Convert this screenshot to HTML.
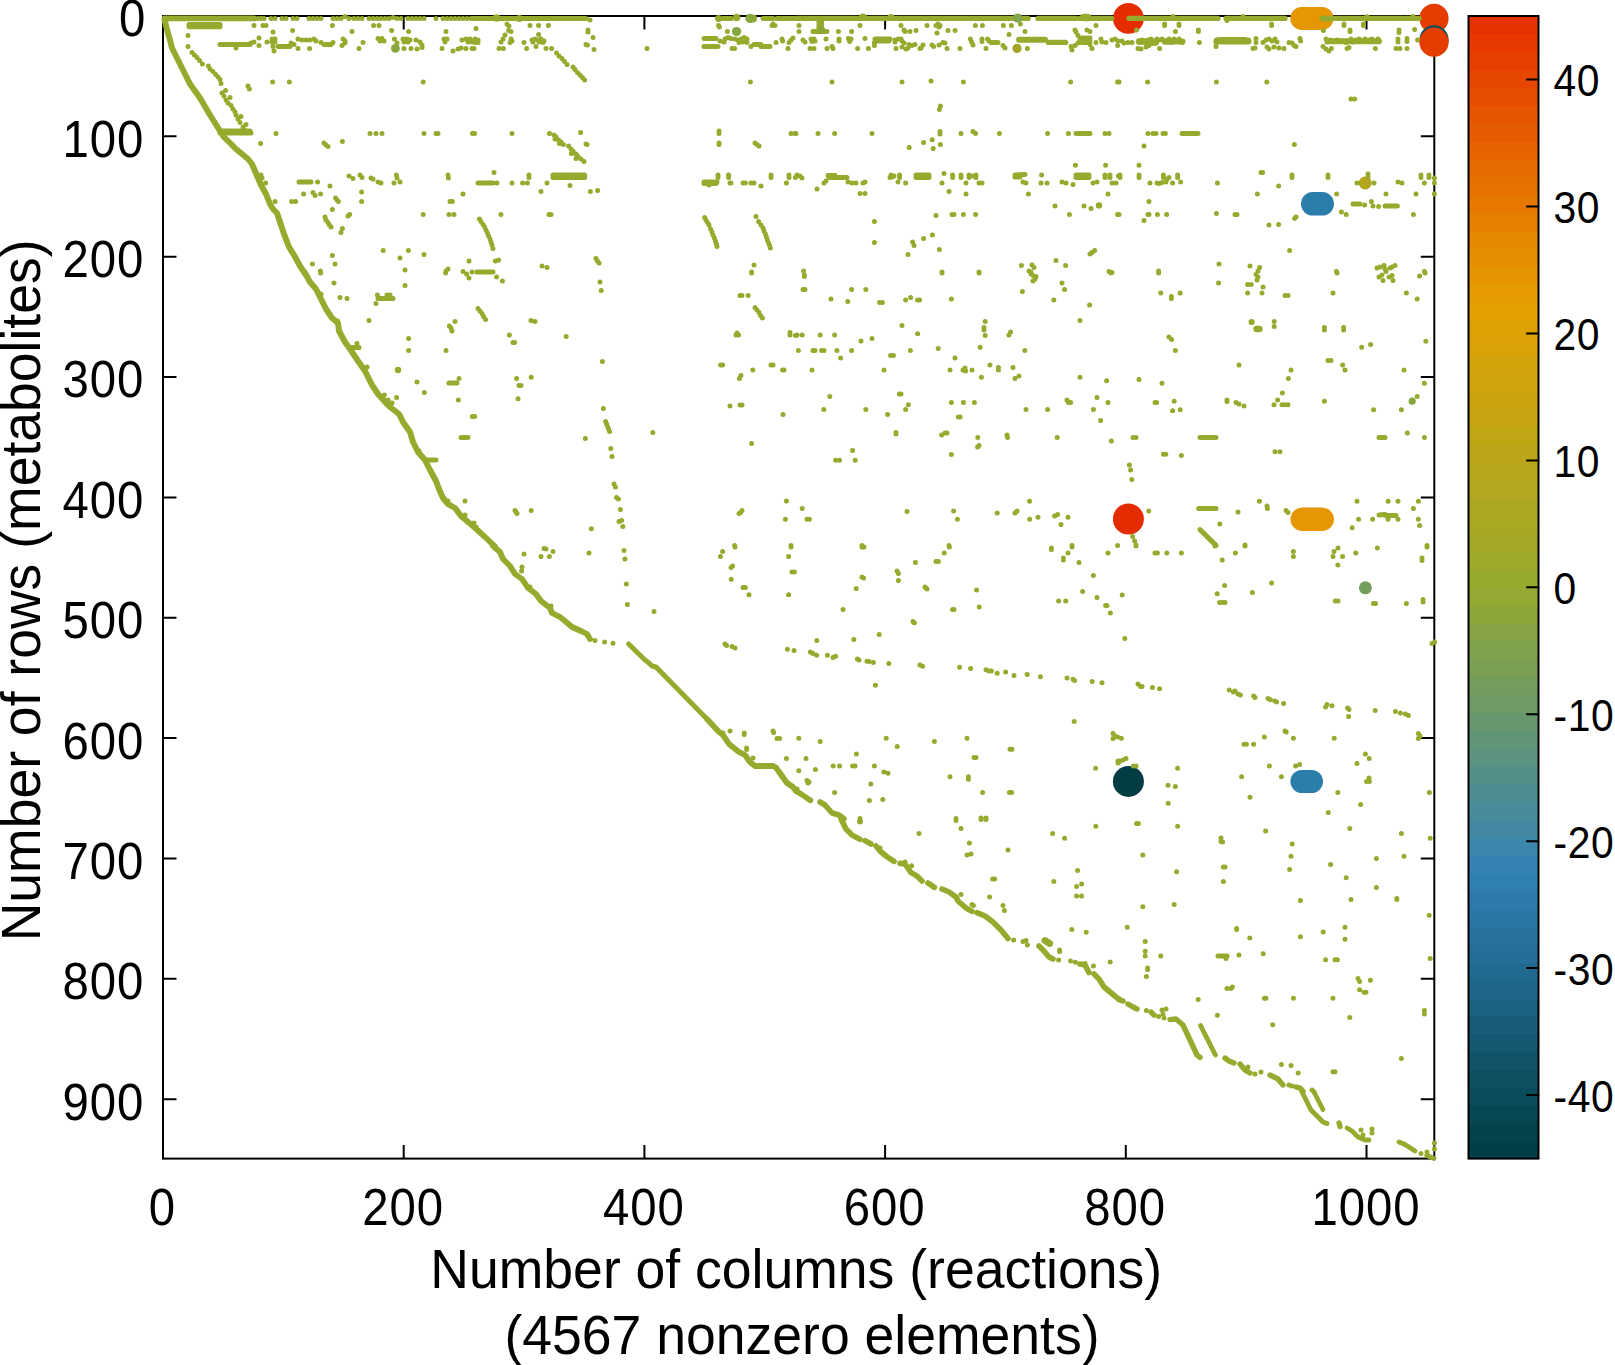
<!DOCTYPE html>
<html lang="en"><head><meta charset="utf-8"><title>Sparsity pattern</title>
<style>html,body{margin:0;padding:0;background:#fff}body{width:1615px;height:1365px;overflow:hidden}svg{display:block}text{font-family:"Liberation Sans",Arial,Helvetica,sans-serif;fill:#000}</style></head><body>
<svg width="1615" height="1365" viewBox="0 0 1615 1365">
<rect width="1615" height="1365" fill="#fff"/>
<g stroke="#000" stroke-width="2" fill="none" stroke-linecap="butt">
<rect x="163.0" y="16.0" width="1271.3" height="1142.6"/>
<path d="M163.0 1158.6v-13.5M163.0 16.0v13.5M403.7 1158.6v-13.5M403.7 16.0v13.5M644.4 1158.6v-13.5M644.4 16.0v13.5M885.1 1158.6v-13.5M885.1 16.0v13.5M1125.8 1158.6v-13.5M1125.8 16.0v13.5M1366.5 1158.6v-13.5M1366.5 16.0v13.5M163.0 16.0h13.5M1434.3 16.0h-13.5M163.0 136.3h13.5M1434.3 136.3h-13.5M163.0 256.7h13.5M1434.3 256.7h-13.5M163.0 377.1h13.5M1434.3 377.1h-13.5M163.0 497.4h13.5M1434.3 497.4h-13.5M163.0 617.8h13.5M1434.3 617.8h-13.5M163.0 738.1h13.5M1434.3 738.1h-13.5M163.0 858.5h13.5M1434.3 858.5h-13.5M163.0 978.8h13.5M1434.3 978.8h-13.5M163.0 1099.2h13.5M1434.3 1099.2h-13.5"/>
</g>
<g id="big">
<circle cx="1128.4" cy="18.4" r="15.4" fill="#e52b00"/>
<line x1="1301.8" y1="18.4" x2="1322.0" y2="18.4" stroke="#e69600" stroke-width="23.0" stroke-linecap="round"/>
<circle cx="1434.0" cy="18.4" r="14.6" fill="#e53c00"/>
<circle cx="1434.0" cy="39.9" r="14.6" fill="#0a4f5c"/>
<circle cx="1434.0" cy="42.2" r="14.6" fill="#e53c00"/>
<line x1="1312.8" y1="203.8" x2="1322.2" y2="203.8" stroke="#2b7dab" stroke-width="23.6" stroke-linecap="round"/>
<circle cx="1365.2" cy="183.0" r="6.5" fill="#b3a51c"/>
<circle cx="1128.4" cy="519.0" r="15.5" fill="#e52b00"/>
<line x1="1302.2" y1="519.2" x2="1322.2" y2="519.2" stroke="#e69600" stroke-width="23.4" stroke-linecap="round"/>
<circle cx="1128.4" cy="781.4" r="15.5" fill="#033d44"/>
<line x1="1301.9" y1="781.5" x2="1311.5" y2="781.5" stroke="#2b7dab" stroke-width="23.0" stroke-linecap="round"/>
<circle cx="1365.4" cy="587.8" r="6.5" fill="#749e5e"/>
</g>
<g id="dots" fill="none" stroke="#96aa2d" stroke-linecap="round" stroke-linejoin="round" stroke-width="5.0">
<path d="M164.6 19.2 166.0 26.0 170.0 40.0 172.0 48.0 180.0 64.0 190.0 84.0 200.0 98.0 210.0 115.0 220.0 131.0 224.0 137.0 236.0 149.0 248.0 159.0 252.0 164.0 258.0 178.0 261.0 185.0 266.0 194.0 270.0 204.0 273.0 209.0 277.0 213.0 280.0 222.0 284.0 234.0 289.0 247.0 294.0 255.0 300.0 266.0 305.0 273.6" stroke-width="6.0"/>
<path d="M164.6 18.4 254.0 18.4" stroke-width="5.8"/>
<path d="M220.0 133.0 251.0 133.0" stroke-width="5.0"/>
<path d="M220.0 131.0 250.0 131.0" stroke-width="5.0"/>
<path d="M189.0 24.6 220.0 24.6" stroke-width="5.0"/>
<path d="M189.0 26.8 220.0 26.8" stroke-width="5.0"/>
<path d="M220.0 44.4 250.0 44.4" stroke-width="5.0"/>
<path d="M305.0 273.0 310.0 282.0 316.0 289.0 321.0 299.0 326.0 309.0 332.0 318.0 338.0 323.0 339.0 331.0 345.0 342.0 350.0 349.0 358.0 361.0 365.0 371.0 368.0 377.0 372.0 385.0 378.0 394.0 386.0 403.0 390.0 407.0 399.0 414.0 403.0 422.0 410.0 432.0 413.0 442.0 418.0 452.0 425.0 460.0 430.0 470.0 436.0 481.0 439.0 489.0 443.0 498.0 448.0 504.0 455.0 508.0 461.0 516.0 468.0 522.0 473.0 526.0" stroke-width="6.0"/>
<path d="M398.0 370.0 398.0 370.0" stroke-width="6.4"/>
<path d="M473.0 18.4 586.0 18.4" stroke-width="5.0"/>
<path d="M723.0 18.4 731.0 18.4" stroke-width="5.0"/>
<path d="M763.0 18.4 773.0 18.4" stroke-width="5.0"/>
<path d="M777.0 18.4 796.0 18.4" stroke-width="5.0"/>
<path d="M496.6 18.0 496.6 18.0" stroke-width="7.5"/>
<path d="M519.4 18.4 519.4 18.4" stroke-width="7.0"/>
<path d="M718.6 18.4 718.6 18.4" stroke-width="7.0"/>
<path d="M736.6 17.6 736.6 17.6" stroke-width="7.5"/>
<path d="M553.0 175.0 584.6 175.0" stroke-width="5.0"/>
<path d="M553.0 177.6 584.6 177.6" stroke-width="5.0"/>
<path d="M473.0 526.0 485.0 537.0 495.0 546.6" stroke-width="5.8"/>
<path d="M493.0 546.0 500.0 552.0 503.0 559.0 510.0 566.0 515.0 574.0 522.0 579.0 528.0 588.0 536.0 594.0 541.0 601.0 550.0 608.0 552.0 613.0 560.0 617.0 565.0 621.0 572.0 627.0 581.0 631.0 587.0 634.0 590.0 639.0" stroke-width="5.8"/>
<path d="M628.6 644.0 645.0 660.0 649.0 663.0 652.0 666.0 656.0 667.0 707.0 719.0" stroke-width="5.0"/>
<path d="M707.0 719.0 718.0 731.0 723.0 735.0 729.0 744.0 739.0 752.0 745.0 755.0 750.0 762.0 755.0 766.0 773.0 766.0 776.0 767.6 782.0 776.0 787.0 783.0 793.0 787.0 796.0 791.0" stroke-width="5.8"/>
<path d="M796.0 18.4 1028.0 18.4" stroke-width="5.4"/>
<path d="M1038.0 18.4 1076.0 18.4" stroke-width="5.4"/>
<path d="M1080.0 18.4 1111.6 18.4" stroke-width="5.4"/>
<path d="M863.0 17.2 863.0 17.2" stroke-width="7.5"/>
<path d="M891.0 17.6 891.0 17.6" stroke-width="7.0"/>
<path d="M1084.0 17.6 1087.6 17.6" stroke-width="7.5"/>
<path d="M1019.0 39.8 1045.0 39.8" stroke-width="6.0"/>
<path d="M1081.6 41.0 1088.4 41.0" stroke-width="8.0"/>
<path d="M1048.4 42.4 1065.6 42.4" stroke-width="5.2"/>
<path d="M1099.0 205.4 1099.0 205.4" stroke-width="6.4"/>
<path d="M796.0 791.0 801.0 794.0 810.4 800.4" stroke-width="5.6"/>
<path d="M820.0 802.0 825.0 805.0 832.0 813.0 839.0 815.0 844.0 818.8" stroke-width="5.6"/>
<path d="M841.0 819.0 846.0 829.0 852.0 835.0 860.0 839.4" stroke-width="5.6"/>
<path d="M865.0 840.6 871.0 844.0" stroke-width="5.6"/>
<path d="M876.0 846.0 880.0 851.0 886.0 856.0 894.0 861.4" stroke-width="5.6"/>
<path d="M900.0 863.4 905.0 864.0 911.0 872.6 917.0 876.0 922.0 881.0" stroke-width="5.6"/>
<path d="M928.0 883.0 934.4 887.4" stroke-width="5.6"/>
<path d="M942.0 889.0 949.0 892.0 956.0 897.0 958.0 901.0 966.0 908.0 972.0 911.4" stroke-width="5.6"/>
<path d="M977.0 912.6 985.0 916.0 993.0 922.0 1001.0 930.0 1008.0 938.6" stroke-width="5.6"/>
<path d="M1045.0 940.6 1049.6 943.4" stroke-width="7.0"/>
<path d="M1039.0 946.0 1044.0 951.0 1049.0 957.0 1053.0 959.0" stroke-width="5.6"/>
<path d="M1080.0 964.0 1085.0 965.0 1089.0 972.6" stroke-width="5.6"/>
<path d="M1094.0 974.0 1099.0 979.0 1104.0 987.0 1110.0 992.0 1116.0 997.0 1119.0 999.0" stroke-width="5.6"/>
<path d="M860.0 821.4 860.0 821.4" stroke-width="6.0"/>
<path d="M1129.0 18.4 1218.0 18.4" stroke-width="5.2"/>
<path d="M1226.0 18.4 1285.0 18.4" stroke-width="5.2"/>
<path d="M1322.0 18.4 1403.0 18.4" stroke-width="5.2"/>
<path d="M1405.0 18.4 1419.0 18.4" stroke-width="5.2"/>
<path d="M1251.6 322.0 1251.6 322.0" stroke-width="6.2"/>
<path d="M1256.6 329.0 1259.4 329.0" stroke-width="6.5"/>
<path d="M1119.0 999.6 1123.0 1001.0" stroke-width="5.4"/>
<path d="M1128.0 1004.0 1133.0 1007.0 1137.0 1009.0" stroke-width="5.4"/>
<path d="M1151.0 1012.0 1154.0 1015.0" stroke-width="5.4"/>
<path d="M1170.0 1019.6 1176.0 1019.0 1183.0 1025.0 1197.0 1055.0 1200.0 1057.4" stroke-width="5.4"/>
<path d="M1200.6 1025.6 1215.4 1055.0" stroke-width="4.8"/>
<path d="M1225.0 1058.0 1229.0 1061.0 1234.0 1063.0" stroke-width="5.4"/>
<path d="M1240.0 1064.0 1245.0 1070.0 1250.0 1073.0" stroke-width="5.4"/>
<path d="M1270.0 1075.0 1278.0 1079.0 1283.0 1085.0" stroke-width="5.4"/>
<path d="M1296.0 1087.0 1300.0 1088.0 1303.0 1091.4" stroke-width="5.4"/>
<path d="M1302.0 1092.0 1311.0 1110.0 1323.0 1122.0 1327.0 1123.6" stroke-width="4.8"/>
<path d="M1314.0 1092.0 1323.0 1109.6" stroke-width="4.6"/>
<path d="M1339.0 1123.0 1340.0 1126.4" stroke-width="5.4"/>
<path d="M1347.0 1128.0 1352.0 1131.0 1358.0 1137.0 1365.0 1140.0 1369.0 1140.0" stroke-width="4.8"/>
<path d="M1399.0 1142.0 1405.0 1144.4 1415.0 1151.0" stroke-width="4.8"/>
<path d="M1427.0 1155.6 1434.0 1158.4" stroke-width="4.8"/>
<path d="M1139.0 41.4 1147.5 41.4" stroke-width="6.5"/>
<path d="M1150.5 42.7 1156.0 42.7" stroke-width="6.0"/>
<path d="M1165.0 41.4 1173.5 41.4" stroke-width="6.5"/>
<path d="M1177.5 41.4 1182.5 41.4" stroke-width="6.0"/>
<path d="M1217.0 41.0 1248.0 41.0" stroke-width="7.0"/>
<path d="M1329.0 41.2 1379.0 41.2" stroke-width="6.0"/>
<path d="M258.0 18.4h0M261.0 18.4h0M264.0 18.4h0M271.0 18.4h0M275.0 18.4h0M282.0 18.4h0M286.0 18.4h0M293.0 18.4h0M297.0 18.4h0M309.0 18.4h0M313.0 18.4h0M317.0 18.4h0M321.0 18.4h0M333.0 18.4h0M337.0 18.4h0M341.0 18.4h0M345.0 16.4h0M349.0 18.4h0M354.0 18.4h0M358.0 18.4h0M362.0 18.4h0M369.0 18.4h0M373.0 18.4h0M377.0 18.4h0M381.0 18.4h0M385.0 18.4h0M389.0 18.4h0M393.0 17.6h0M397.0 18.4h0M401.0 18.4h0M408.0 18.4h0M412.0 18.4h0M416.0 18.4h0M420.0 18.4h0M424.0 18.4h0M436.0 18.4h0M443.0 18.4h0M447.0 18.4h0M451.0 18.4h0M455.0 18.4h0M459.0 18.4h0M463.0 18.4h0M467.0 18.4h0M471.0 18.4h0M254.0 25.6h0M263.0 25.6h0M266.0 25.6h0M332.4 25.6h0M373.6 25.6h0M379.0 25.6h0M273.0 32.0h0M292.6 30.4h0M352.0 31.6h0M391.6 30.4h0M408.6 31.6h0M446.0 31.6h0M259.0 38.0h0M267.0 42.0h0M272.0 39.0h0M275.0 39.0h0M272.0 42.0h0M275.0 42.0h0M298.0 39.0h0M302.0 40.0h0M306.0 40.0h0M310.0 40.0h0M314.0 39.0h0M316.0 41.0h0M343.0 39.0h0M345.0 41.0h0M378.0 38.4h0M382.0 38.4h0M380.0 41.0h0M384.0 41.0h0M394.4 39.0h0M403.0 39.0h0M407.0 39.0h0M410.0 40.0h0M404.0 42.0h0M408.0 42.0h0M416.0 40.0h0M420.0 42.0h0M444.0 39.0h0M447.0 39.0h0M445.0 42.0h0M462.0 40.0h0M466.0 39.0h0M470.0 39.0h0M468.0 42.0h0M472.0 42.0h0M251.0 43.0h0M254.0 42.0h0M259.0 45.6h0M273.0 46.4h0M291.0 43.0h0M294.0 44.4h0M321.0 42.4h0M333.0 42.4h0M342.0 45.6h0M345.0 43.0h0M363.0 42.4h0M397.0 43.0h0M422.0 45.0h0M236.0 48.0h0M274.0 51.0h0M298.0 48.4h0M309.6 48.4h0M359.0 48.4h0M404.0 48.4h0M411.0 48.4h0M417.0 49.0h0M422.0 47.6h0M442.0 48.4h0M458.0 49.0h0M461.0 48.0h0M466.0 48.4h0M472.0 48.4h0M453.0 51.0h0M188.0 35.6h0M188.0 46.4h0M192.0 52.4h0M194.4 55.0h0M197.0 57.6h0M199.6 60.4h0M202.4 64.0h0M208.4 66.0h0M210.0 69.0h0M213.0 71.6h0M215.6 74.4h0M218.0 77.0h0M220.0 79.4h0M221.0 83.6h0M225.6 90.4h0M222.0 93.0h0M224.0 96.0h0M230.0 97.6h0M226.0 100.0h0M228.0 103.0h0M231.0 105.6h0M233.0 109.0h0M235.0 112.0h0M236.0 115.0h0M241.0 116.6h0M238.0 119.0h0M240.0 122.4h0M246.0 124.4h0M243.0 127.0h0M244.0 129.6h0M248.0 86.0h0M249.4 89.0h0M272.6 82.0h0M289.4 82.0h0M423.2 82.0h0M276.0 133.6h0M370.0 133.6h0M376.0 133.6h0M382.0 133.6h0M424.0 133.6h0M436.0 133.6h0M438.0 133.6h0M472.4 133.6h0M260.6 143.4h0M324.0 143.0h0M326.0 145.0h0M328.0 146.4h0M342.4 141.4h0M261.0 175.0h0M262.0 178.0h0M259.6 181.0h0M265.6 183.0h0M317.6 182.0h0M349.0 176.0h0M353.0 178.4h0M360.0 175.0h0M362.0 177.6h0M371.0 178.0h0M373.0 179.0h0M378.0 182.0h0M381.0 183.0h0M396.4 175.0h0M397.0 178.0h0M394.0 183.0h0M400.0 182.0h0M448.0 175.0h0M448.4 178.0h0M330.0 186.0h0M303.6 194.0h0M313.0 192.4h0M315.0 195.6h0M320.6 194.0h0M361.6 192.0h0M463.0 194.0h0M275.0 201.4h0M291.6 201.4h0M295.6 201.4h0M335.6 198.0h0M337.0 200.0h0M338.4 201.6h0M361.6 201.4h0M450.0 201.4h0M452.4 201.4h0M332.4 209.6h0M348.0 216.0h0M349.6 214.4h0M423.2 214.6h0M449.0 214.6h0M454.0 214.6h0M325.0 217.0h0M326.0 220.0h0M328.0 222.4h0M329.4 225.0h0M331.0 227.0h0M342.4 228.6h0M341.0 232.6h0M383.2 250.6h0M408.4 250.6h0M332.4 255.4h0M400.0 258.0h0M424.0 254.4h0M469.0 261.0h0M312.4 264.0h0M335.0 264.0h0M320.4 271.0h0M405.0 270.0h0M446.0 271.0h0M448.0 269.0h0M463.0 271.6h0M472.0 272.0h0M357.0 343.4h0M321.0 294.0h0M337.6 321.0h0M367.0 367.0h0M388.0 400.0h0M392.0 403.0h0M384.4 395.0h0M400.0 415.0h0M419.0 451.0h0M448.0 501.0h0M465.0 515.0h0M320.6 273.0h0M445.6 273.0h0M466.6 274.0h0M469.0 278.0h0M334.0 283.0h0M405.0 285.6h0M340.0 297.6h0M347.0 298.6h0M377.4 295.0h0M387.0 295.0h0M390.0 295.0h0M376.0 303.6h0M369.0 320.6h0M455.0 321.4h0M449.4 326.0h0M451.0 328.0h0M452.0 331.0h0M408.6 338.6h0M408.6 350.6h0M446.0 350.6h0M417.0 382.0h0M459.0 378.4h0M424.4 392.6h0M396.6 397.6h0M458.4 400.0h0M472.4 416.6h0M465.0 501.0h0M590.0 20.0h0M507.0 24.0h0M509.0 26.0h0M530.0 25.6h0M538.6 25.6h0M548.4 25.6h0M718.6 25.6h0M719.4 27.0h0M772.0 25.6h0M775.0 25.6h0M773.0 24.0h0M476.0 28.4h0M508.6 30.4h0M511.0 31.6h0M588.0 30.0h0M588.0 32.0h0M727.4 31.4h0M505.0 35.0h0M538.6 34.4h0M593.0 37.6h0M503.0 39.0h0M501.0 42.0h0M511.0 39.0h0M512.0 41.0h0M510.0 42.4h0M475.0 39.0h0M478.0 40.0h0M475.0 42.4h0M478.0 42.4h0M524.0 42.4h0M532.0 40.0h0M535.0 39.0h0M538.0 40.0h0M541.0 39.0h0M544.0 41.0h0M533.0 42.0h0M539.0 42.0h0M543.0 42.4h0M586.0 44.4h0M587.4 45.0h0M720.0 41.0h0M725.0 39.0h0M724.0 42.0h0M728.0 37.6h0M731.0 38.4h0M735.0 39.0h0M738.0 40.0h0M741.0 39.0h0M744.0 37.6h0M747.0 39.0h0M739.0 42.4h0M743.0 42.0h0M747.0 42.4h0M751.0 46.4h0M776.0 42.4h0M782.0 39.0h0M782.6 41.0h0M789.0 42.4h0M791.0 40.0h0M793.0 38.0h0M474.0 48.4h0M499.0 48.4h0M503.4 48.4h0M526.6 48.4h0M536.0 46.4h0M546.0 48.4h0M551.6 48.4h0M594.0 49.4h0M647.0 48.4h0M732.0 48.4h0M734.6 48.4h0M788.0 48.4h0M556.6 53.0h0M559.0 56.0h0M562.0 58.4h0M564.6 61.6h0M567.0 64.4h0M573.0 67.0h0M575.0 69.6h0M577.4 72.4h0M580.0 75.0h0M582.4 77.6h0M584.6 80.0h0M750.4 82.0h0M474.6 133.6h0M512.0 133.6h0M549.4 133.6h0M580.6 132.4h0M719.0 131.0h0M719.0 133.6h0M791.0 133.6h0M795.0 133.6h0M554.0 135.0h0M556.0 137.0h0M555.0 139.0h0M558.6 140.0h0M561.0 142.0h0M559.4 143.6h0M563.4 144.4h0M568.6 146.0h0M586.0 144.0h0M587.0 144.4h0M571.0 149.0h0M573.0 151.0h0M571.4 153.6h0M576.0 154.0h0M578.0 156.4h0M576.0 158.4h0M581.0 159.0h0M584.0 161.6h0M719.0 143.0h0M719.0 144.4h0M755.0 143.0h0M757.0 144.4h0M759.0 146.0h0M494.0 172.4h0M529.0 175.0h0M529.0 177.6h0M718.0 175.0h0M718.0 177.6h0M728.6 175.0h0M728.6 177.6h0M771.0 175.0h0M771.0 177.6h0M789.0 175.0h0M789.0 177.6h0M795.4 177.6h0M497.0 183.0h0M512.0 183.0h0M522.6 183.0h0M527.4 183.0h0M547.0 183.0h0M570.0 185.6h0M709.0 185.0h0"/>
<path d="M730.0 183.0h0M731.0 183.0h0M743.0 183.0h0M745.4 183.0h0M751.0 183.0h0M754.0 183.0h0M761.0 186.0h0M786.4 183.0h0M541.0 191.6h0M590.4 191.6h0M597.6 190.6h0M501.0 214.6h0M549.0 214.6h0M551.0 214.6h0M479.4 219.0h0M481.0 221.6h0M483.0 224.4h0M484.6 227.0h0M486.0 230.0h0M487.4 233.0h0M488.6 236.0h0M490.0 239.0h0M491.0 242.0h0M492.0 245.0h0M493.0 248.6h0M704.6 217.6h0M706.0 220.0h0M707.4 222.4h0M709.0 225.0h0M710.6 229.0h0M712.0 232.0h0M713.0 235.0h0M714.4 238.0h0M715.4 241.0h0M716.4 244.0h0M717.0 246.6h0M756.0 216.6h0M758.6 221.6h0M761.0 225.0h0M763.0 228.0h0M764.0 231.0h0M765.4 234.0h0M766.4 237.0h0M767.4 240.0h0M768.6 243.0h0M769.6 245.6h0M770.4 248.0h0M495.4 261.0h0M498.6 260.0h0M542.0 266.0h0M547.0 267.4h0M596.0 258.6h0M597.4 261.0h0M599.0 263.0h0M754.0 265.0h0M751.6 272.0h0M474.0 523.0h0M476.0 527.0h0M496.6 277.0h0M502.4 281.0h0M600.0 282.0h0M601.2 290.6h0M751.6 273.0h0M740.0 295.4h0M742.0 295.4h0M748.2 295.4h0M478.0 308.6h0M480.0 311.0h0M482.0 313.6h0M483.6 316.4h0M485.6 319.4h0M531.0 320.6h0M535.0 321.6h0M755.0 307.4h0M757.0 310.0h0M759.0 312.6h0M760.6 315.4h0M762.4 318.0h0M509.4 335.0h0M513.0 342.4h0M514.6 342.4h0M566.2 336.4h0M737.0 333.0h0M736.0 335.0h0M738.6 335.0h0M790.0 332.6h0M790.0 335.0h0M795.4 335.4h0M602.4 361.4h0M720.6 365.0h0M722.6 365.0h0M771.0 365.0h0M773.0 365.0h0M752.8 370.0h0M782.6 370.0h0M784.0 370.0h0M741.0 375.4h0M739.4 378.4h0M516.6 378.4h0M531.2 377.2h0M519.0 385.4h0M521.0 385.4h0M518.0 398.8h0M474.6 416.6h0M603.4 408.6h0M730.0 406.0h0M740.0 405.0h0M742.0 405.0h0M783.0 414.6h0M605.6 421.4h0M606.6 424.0h0M607.6 426.6h0M608.6 429.0h0M609.6 431.6h0M585.4 438.4h0M652.8 432.4h0M751.6 443.4h0M610.8 448.4h0M612.0 456.6h0M614.0 484.0h0M615.4 487.0h0M616.6 497.4h0M618.4 499.0h0M620.4 509.6h0M619.0 521.6h0M621.6 520.4h0M622.8 526.6h0M515.0 510.4h0M516.0 512.0h0M517.0 513.6h0M531.2 510.6h0M591.4 528.8h0M786.4 501.0h0M742.0 510.6h0M740.6 512.4h0M739.0 513.6h0M785.4 519.2h0M734.6 545.4h0M791.0 545.4h0M595.0 640.6h0M604.6 642.0h0M613.0 643.2h0M524.0 554.0h0M544.0 548.4h0M546.0 549.0h0M541.0 556.4h0M549.4 556.4h0M553.0 551.6h0M589.0 553.0h0M522.0 567.0h0M521.6 571.0h0M530.0 587.0h0M551.0 606.0h0M624.0 550.4h0M625.0 559.0h0M626.4 584.0h0M627.4 604.6h0M654.0 611.6h0M735.0 547.0h0M722.6 551.6h0M720.4 556.4h0M791.0 547.0h0M788.6 556.4h0M732.6 566.0h0M731.0 567.6h0M792.0 572.0h0M794.4 572.0h0M731.2 579.2h0M743.0 587.6h0M745.4 587.6h0M749.0 594.8h0M788.6 594.8h0M725.0 644.0h0M726.6 645.4h0M732.0 646.6h0M735.0 648.0h0M787.4 649.2h0M794.0 650.4h0M730.0 731.0h0M723.0 733.0h0M744.2 733.0h0M744.2 734.6h0M773.0 731.0h0M773.6 732.6h0M777.0 738.4h0M779.6 738.4h0M746.6 748.0h0M746.6 749.4h0M753.0 758.0h0M743.0 754.0h0M786.4 758.6h0M799.0 25.6h0M860.0 25.6h0M901.0 25.6h0M927.0 25.6h0M936.0 25.6h0M940.0 25.6h0M938.0 24.0h0M939.0 27.0h0M975.4 25.6h0M982.4 25.6h0M1003.4 25.6h0M1011.4 25.6h0M1020.4 24.0h0M1096.0 25.6h0M799.0 31.4h0M838.4 31.4h0M851.6 31.4h0M904.0 30.0h0M905.0 31.6h0M910.0 31.4h0M916.0 30.4h0M937.0 33.0h0M948.0 30.4h0M955.0 30.4h0M1025.0 31.4h0M1009.0 34.4h0M1075.0 30.0h0M1076.0 32.0h0M1087.0 30.0h0M1090.0 31.4h0M1078.0 35.6h0M803.0 40.0h0M805.0 42.0h0M811.0 39.0h0M814.0 39.0h0M812.0 41.6h0M815.0 41.0h0M826.0 39.0h0M839.0 39.0h0M839.0 41.0h0M848.4 38.4h0M851.0 39.0h0M849.6 41.6h0M865.0 38.4h0M874.4 42.4h0M874.4 45.6h0M895.0 40.0h0M898.0 39.0h0M895.0 42.0h0M901.0 39.0h0M902.0 41.0h0M904.0 43.0h0M909.0 44.4h0M912.0 45.6h0M915.0 44.4h0M923.0 45.0h0M921.0 48.0h0M932.0 45.0h0M933.6 46.4h0M939.0 45.0h0M943.0 42.4h0M945.0 43.0h0M970.4 39.0h0M971.6 42.0h0M973.0 45.0h0M982.0 39.0h0M982.0 41.6h0M987.6 39.0h0M989.0 41.0h0M1003.0 45.6h0M1005.0 48.0h0M1071.0 46.4h0M1072.0 50.0h0M1075.0 45.6h0M1078.0 43.0h0M1080.0 40.0h0M1084.0 41.0h0M1087.0 42.4h0M1089.0 40.0h0M1090.0 44.4h0M1096.0 42.4h0M1101.0 39.0h0M1102.0 42.0h0M1106.0 42.4h0M1112.0 40.0h0M1115.0 39.0h0M1118.0 41.0h0M1117.6 45.6h0M810.0 48.4h0M814.0 48.4h0M827.0 48.4h0M833.0 48.4h0M832.0 46.4h0M857.6 48.4h0M868.4 48.4h0M896.0 48.4h0M902.0 47.0h0M906.0 49.0h0M908.0 48.0h0M920.0 48.4h0M947.0 48.4h0M960.0 48.4h0M986.0 48.4h0M1027.4 48.4h0M1092.0 48.4h0M832.0 82.0h0M902.0 82.0h0M931.0 81.0h0M963.4 82.0h0M1070.6 82.0h0M1117.6 82.0h0M940.4 106.0h0M939.4 109.6h0M796.0 133.6h0M818.0 133.6h0M834.6 133.6h0M872.0 133.6h0M940.0 131.6h0M940.0 134.0h0M961.0 133.6h0M973.0 131.6h0M975.6 133.6h0M999.4 133.6h0M1047.6 133.6h0M1068.4 133.6h0M1105.0 133.6h0M1109.0 133.6h0M909.2 147.4h0M923.6 142.4h0M932.2 139.8h0M933.2 148.4h0M940.4 144.6h0M1075.4 165.2h0M1105.6 165.2h0M797.0 175.0h0M800.0 176.0h0M802.0 178.0h0M826.0 181.0h0M824.0 183.0h0M817.0 189.0h0M848.0 182.0h0M852.0 183.0h0M856.0 183.0h0M863.0 183.0h0M865.0 182.0h0M860.0 193.6h0M865.0 193.6h0M891.0 175.0h0M892.0 177.0h0M894.0 176.0h0M890.0 177.6h0M899.6 175.0h0M899.6 177.6h0M898.0 182.0h0M905.6 183.0h0M944.0 173.6h0M952.6 175.0h0M952.6 177.6h0M961.0 175.0h0M961.0 177.6h0M969.0 175.0h0M969.0 177.6h0M973.0 176.0h0M976.0 175.0h0M976.0 177.6h0M942.0 183.0h0M966.0 183.0h0M979.0 183.0h0M982.0 183.0h0M949.0 191.6h0M966.0 194.0h0M1023.0 182.0h0M1026.0 183.0h0M1041.6 175.0h0M1041.0 183.0h0M1047.0 183.0h0M1062.0 182.0h0M1066.0 183.0h0M1073.0 184.4h0M1093.0 183.0h0M1097.0 182.0h0M1105.0 175.0h0M1105.0 177.6h0M1110.0 175.0h0M1110.0 177.6h0M1112.0 183.0h0M1116.0 183.0h0M1118.4 176.0h0M1028.4 194.0h0M1108.0 194.0h0M1055.0 206.0h0M1084.0 206.0h0M1091.0 208.6h0M936.0 215.6h0M952.0 214.6h0M954.0 214.6h0M963.4 214.6h0M975.6 214.6h0M1069.4 214.6h0M1117.6 214.6h0M874.4 221.6h0M874.4 242.4h0M932.4 235.0h0M923.6 238.4h0M912.6 242.0h0M914.0 245.6h0M939.4 249.4h0M908.0 254.4h0M1090.0 254.0h0"/>
<path d="M1092.0 252.4h0M1094.6 250.4h0M1056.0 260.6h0M1065.6 265.4h0M1021.4 265.4h0M1032.0 265.0h0M1034.0 267.4h0M1029.0 271.0h0M1031.0 272.0h0M803.6 271.0h0M942.0 272.0h0M979.0 272.0h0M1109.0 271.6h0M1112.0 272.4h0M804.4 275.0h0M804.4 276.6h0M803.0 289.4h0M805.0 289.4h0M851.6 289.4h0M865.8 289.4h0M942.0 273.0h0M979.0 273.0h0M1031.0 274.0h0M1033.0 275.4h0M1036.0 276.6h0M1035.0 279.0h0M1033.0 281.0h0M1111.0 273.0h0M1062.0 283.0h0M1064.6 289.4h0M1022.4 291.6h0M831.0 299.0h0M847.8 301.4h0M879.6 302.6h0M882.4 302.6h0M905.6 300.0h0M910.6 297.6h0M917.6 300.0h0M919.6 300.0h0M951.4 299.0h0M1053.8 300.0h0M1089.6 305.0h0M902.0 325.4h0M985.2 321.6h0M984.0 327.4h0M984.0 330.0h0M985.2 335.4h0M1010.6 332.0h0M1009.0 335.0h0M1080.0 320.6h0M797.0 335.0h0M802.2 335.0h0M820.2 335.0h0M834.6 335.0h0M861.0 341.0h0M872.0 338.6h0M917.6 333.8h0M798.4 350.6h0M813.0 350.6h0M815.0 350.6h0M821.6 350.6h0M824.0 350.6h0M837.0 350.6h0M851.6 350.6h0M840.6 358.0h0M890.6 355.4h0M893.4 355.4h0M910.4 350.6h0M938.2 348.4h0M980.2 347.2h0M1024.8 350.6h0M955.0 358.0h0M812.0 370.0h0M884.0 370.0h0M950.0 370.0h0M963.0 370.0h0M965.0 368.0h0M965.6 371.0h0M972.0 370.0h0M990.0 365.0h0M998.4 367.4h0M998.4 370.0h0M1013.0 367.4h0M981.4 377.2h0M1015.0 378.4h0M1019.0 376.0h0M1080.0 377.2h0M1106.6 380.8h0M829.8 396.4h0M899.4 394.0h0M901.0 394.0h0M908.4 404.8h0M905.6 409.6h0M823.8 409.6h0M865.8 409.6h0M887.6 414.6h0M951.4 402.6h0M963.4 402.6h0M974.4 402.6h0M958.4 417.0h0M960.0 417.0h0M1026.0 409.6h0M1047.6 409.6h0M1067.0 400.0h0M1068.4 402.4h0M1070.6 402.6h0M1097.0 397.6h0M1108.0 402.6h0M1093.4 409.6h0M1100.6 420.6h0M896.0 432.4h0M896.0 434.0h0M941.6 435.0h0M945.0 433.0h0M947.0 433.0h0M977.8 437.4h0M979.0 445.4h0M977.6 447.0h0M1007.0 435.0h0M1007.6 437.4h0M1057.2 437.4h0M1111.4 441.0h0M951.4 454.4h0M852.6 450.4h0M835.6 460.2h0M839.6 460.2h0M855.2 460.2h0M802.2 508.4h0M807.0 519.2h0M809.4 519.2h0M907.0 511.4h0M953.6 511.0h0M957.4 519.2h0M997.2 513.0h0M1029.6 501.2h0M1015.0 513.0h0M1017.0 511.0h0M1029.6 519.2h0M1038.0 517.2h0M1054.6 516.0h0M1057.6 514.6h0M1068.0 517.2h0M1061.0 524.6h0M862.0 545.4h0M949.0 545.4h0M1072.0 545.4h0M1117.6 545.4h0M797.0 789.0h0M862.0 547.0h0M864.0 547.0h0M949.4 547.0h0M944.2 553.0h0M1051.4 548.0h0M1051.4 549.6h0M1072.0 547.0h0M1068.0 553.0h0M1063.4 558.0h0M1063.4 560.0h0M1108.0 553.0h0M1079.0 562.4h0M915.4 562.4h0M936.0 561.4h0M938.4 561.4h0M897.0 571.0h0M898.4 573.4h0M898.4 580.6h0M862.0 577.0h0M863.6 578.0h0M856.2 588.4h0M925.0 587.0h0M927.0 589.0h0M926.0 588.0h0M976.6 590.0h0M1093.4 575.6h0M1082.6 591.4h0M1097.0 597.6h0M1058.6 601.0h0M1065.8 601.0h0M1105.6 605.6h0M1107.0 605.6h0M1110.4 613.0h0M843.0 609.4h0M952.6 609.4h0M954.0 609.4h0M979.2 607.0h0M913.0 621.4h0M914.4 622.8h0M816.8 640.6h0M853.8 639.4h0M879.2 634.6h0M810.4 652.0h0M813.0 653.4h0M816.6 655.2h0M827.4 655.2h0M833.0 657.4h0M835.6 656.2h0M857.4 659.0h0M859.0 660.0h0M867.0 661.2h0M869.0 661.4h0M873.4 662.6h0M888.8 663.6h0M920.0 665.0h0M922.6 666.2h0M959.6 667.2h0M970.6 668.4h0M986.0 669.8h0M989.0 671.0h0M991.4 671.0h0M997.2 673.2h0M1005.6 672.0h0M1014.0 675.6h0M1027.2 674.4h0M1040.4 676.8h0M1067.0 678.0h0M1073.0 679.2h0M1074.6 680.4h0M1092.2 681.6h0M1102.0 682.8h0M875.4 685.2h0M1074.2 721.4h0M798.8 738.2h0M820.2 741.6h0M886.2 738.2h0M897.2 746.6h0M934.4 741.6h0M967.0 738.2h0M1113.0 733.6h0M1115.0 736.0h0M1113.0 738.4h0M1117.6 737.0h0M1010.0 749.2h0M1012.0 749.2h0M974.0 757.4h0M976.0 757.4h0M856.4 754.0h0M806.0 758.6h0M798.8 770.8h0M815.4 769.4h0M833.2 766.0h0M839.6 766.0h0M852.6 766.0h0M855.0 766.0h0M874.4 766.0h0M884.0 772.0h0M888.0 773.2h0M1095.6 768.2h0M1118.0 761.0h0M1118.0 763.0h0M807.0 780.4h0M809.0 782.0h0M808.0 783.0h0M870.8 784.0h0M950.0 776.8h0M968.4 776.8h0M968.4 779.2h0M834.6 792.4h0M982.6 792.4h0M1009.4 792.4h0M1011.6 792.4h0M869.4 800.6h0M882.8 799.6h0M860.0 818.4h0M956.0 818.4h0M981.0 818.0h0M986.0 818.0h0M1013.6 940.0h0M1023.0 941.4h0M1026.0 940.6h0M1027.4 945.0h0M1058.6 960.0h0M1070.6 961.0h0M1075.4 962.2h0M956.0 820.6h0M961.0 828.4h0M981.0 819.4h0M986.0 819.4h0M919.0 833.4h0M969.4 843.0h0M967.0 855.0h0M971.0 854.0h0M1008.0 850.0h0M1052.6 833.4h0M1064.6 838.2h0M1095.8 826.2h0M911.6 865.8h0M992.6 879.0h0M994.6 879.0h0M1077.6 870.6h0M1053.8 881.6h0M1081.6 884.0h0M1076.6 886.4h0M1076.6 896.0h0M1081.6 896.0h0M961.0 894.6h0M989.6 897.0h0M972.0 904.6h0M973.4 905.6h0M1003.0 905.6h0M1004.4 910.6h0M1071.8 929.6h0M1086.2 932.2h0M1059.6 950.0h0M1059.6 951.4h0M1093.4 966.0h0M1110.2 962.0h0M880.0 848.0h0M905.0 862.0h0M1085.0 963.4h0M1227.0 20.4h0M1173.0 16.4h0M1243.0 16.4h0M1328.0 20.0h0M1367.0 16.8h0M1413.0 16.4h0M1136.6 30.0h0M1164.6 25.6h0M1179.0 25.6h0M1175.4 31.6h0M1198.4 30.0h0M1271.6 25.6h0M1323.4 30.4h0M1344.0 25.6h0M1350.0 30.0h0M1363.4 25.6h0M1399.0 30.0h0M1399.0 32.4h0M1414.6 29.6h0M1164.6 24.0h0M1179.0 24.0h0M1198.4 31.6h0M1271.6 24.0h0M1344.0 24.0h0M1363.4 24.0h0M1350.0 31.6h0M1122.0 41.0h0M1124.0 43.0h0M1128.0 42.4h0M1132.0 42.4h0M1140.0 42.4h0M1142.0 40.0h0M1145.0 42.0h0M1148.0 40.0h0M1151.0 39.0h0M1154.0 41.0h0M1157.0 39.0h0M1160.0 40.0h0M1162.0 39.0h0M1166.0 41.0h0M1169.0 39.0h0M1171.4 42.0h0M1174.0 39.0h0M1177.0 41.0h0M1179.0 39.0h0M1182.0 42.4h0M1199.4 42.4h0M1216.0 42.4h0M1217.0 40.0h0M1256.0 38.4h0M1256.0 42.4h0M1263.0 42.4h0M1266.0 40.0h0M1269.0 39.0h0M1272.0 41.0h0M1275.0 39.0h0M1277.0 42.0h0M1289.0 42.4h0M1292.0 43.0h0M1300.0 38.4h0M1300.6 41.0h0M1326.0 39.0h0M1327.0 42.0h0M1330.0 40.0h0M1334.0 41.0h0M1337.0 40.0h0M1340.0 41.0h0M1343.0 41.0h0M1346.0 42.4h0M1351.0 39.0h0M1353.0 42.0h0M1356.0 40.0h0M1359.0 39.0h0M1362.0 41.0h0M1365.0 39.0h0M1369.0 40.0h0M1372.0 39.0h0M1374.0 41.0h0M1378.0 39.0h0M1378.0 41.6h0M1398.0 39.0h0M1398.0 42.0h0M1407.0 38.4h0M1407.0 41.6h0M1138.0 48.4h0M1141.0 49.0h0M1146.0 47.0h0M1149.0 45.6h0M1159.6 48.4h0M1216.0 46.4h0M1253.0 48.4h0"/>
<path d="M1255.0 48.0h0M1267.0 47.0h0M1269.0 49.0h0M1274.0 47.0h0M1279.0 48.0h0M1284.0 48.4h0M1294.0 45.6h0M1296.0 46.4h0M1323.0 46.4h0M1326.0 49.0h0M1329.0 51.0h0M1331.4 48.4h0M1347.0 48.4h0M1349.0 47.6h0M1375.4 48.4h0M1396.0 48.4h0M1400.0 48.4h0M1407.0 48.4h0M1119.0 82.0h0M1147.6 82.0h0M1216.4 82.0h0M1266.8 82.0h0M1351.0 99.0h0M1354.6 99.0h0M1148.0 133.6h0M1153.0 133.6h0M1156.0 133.6h0M1163.0 133.6h0M1165.4 133.6h0M1144.0 146.0h0M1294.4 144.6h0M1139.0 165.2h0M1120.0 175.0h0M1120.0 177.6h0M1139.0 175.0h0M1139.0 177.6h0M1163.4 175.0h0M1163.4 177.6h0M1167.0 179.0h0M1169.0 177.6h0M1177.6 175.0h0M1177.6 177.6h0M1150.0 183.0h0M1157.0 183.0h0M1159.0 183.6h0M1162.0 182.4h0M1166.0 182.0h0M1172.6 183.0h0M1180.6 182.0h0M1217.4 183.0h0M1261.0 172.4h0M1262.6 172.4h0M1292.0 175.0h0M1292.0 177.6h0M1278.6 186.0h0M1328.0 175.0h0M1328.0 177.6h0M1368.0 174.0h0M1368.0 177.0h0M1357.0 183.0h0M1374.0 183.0h0M1398.0 182.0h0M1402.0 183.0h0M1421.0 175.0h0M1421.0 177.6h0M1429.0 175.0h0M1429.0 177.6h0M1424.4 183.0h0M1434.4 178.0h0M1434.4 183.0h0M1257.4 194.0h0M1336.6 194.0h0M1386.0 194.0h0M1416.0 194.0h0M1434.4 194.0h0M1149.0 201.4h0M1371.4 201.4h0M1364.6 205.0h0M1373.0 206.0h0M1378.6 206.4h0M1341.4 212.0h0M1346.2 214.6h0M1119.0 214.6h0M1148.0 214.6h0M1149.0 214.6h0M1157.4 214.6h0M1166.6 214.6h0M1216.4 213.4h0M1235.0 214.6h0M1237.0 214.6h0M1413.4 214.6h0M1144.0 220.6h0M1294.6 218.4h0M1296.0 217.0h0M1269.0 225.0h0M1278.6 224.4h0M1289.6 250.6h0M1219.0 264.0h0M1250.0 266.0h0M1259.6 267.4h0M1258.0 271.0h0M1158.6 271.0h0M1336.4 271.6h0M1377.0 268.0h0M1380.0 267.0h0M1384.0 265.6h0M1385.0 269.0h0M1390.0 268.0h0M1392.0 267.0h0M1395.0 265.6h0M1386.0 271.6h0M1424.4 271.6h0M1158.6 273.0h0M1256.0 274.6h0M1258.0 277.0h0M1257.0 280.0h0M1337.0 273.0h0M1379.0 277.0h0M1382.0 275.0h0M1383.0 280.6h0M1389.0 277.0h0M1392.0 275.4h0M1393.0 280.6h0M1419.6 276.0h0M1425.0 273.0h0M1218.6 283.0h0M1247.6 284.6h0M1251.2 284.6h0M1263.0 287.0h0M1160.8 293.0h0M1180.2 293.0h0M1171.4 296.6h0M1171.4 298.6h0M1247.6 293.0h0M1262.0 293.0h0M1285.0 295.4h0M1288.0 295.4h0M1333.0 293.0h0M1406.4 293.0h0M1417.2 299.0h0M1274.2 321.6h0M1274.2 326.6h0M1324.4 327.4h0M1324.4 330.0h0M1343.6 327.4h0M1343.6 330.0h0M1169.0 337.0h0M1171.6 339.6h0M1175.4 350.6h0M1361.6 347.2h0M1370.6 344.6h0M1425.8 341.2h0M1239.0 365.0h0M1328.0 360.4h0M1331.0 360.4h0M1342.6 365.0h0M1345.0 370.0h0M1291.0 370.0h0M1288.4 378.4h0M1404.0 370.0h0M1139.0 379.6h0M1162.0 383.2h0M1424.4 383.2h0M1282.4 393.0h0M1155.0 402.6h0M1156.6 402.6h0M1174.2 401.2h0M1172.6 410.8h0M1180.2 409.8h0M1227.0 400.0h0M1227.0 401.4h0M1236.0 402.4h0M1239.0 404.0h0M1244.0 406.0h0M1274.0 404.8h0M1277.6 400.0h0M1282.0 404.8h0M1288.0 404.8h0M1285.0 404.8h0M1324.4 401.2h0M1373.6 409.8h0M1401.4 409.8h0M1417.2 396.6h0M1133.0 437.4h0M1136.0 437.4h0M1407.4 433.0h0M1424.4 437.4h0M1163.4 454.2h0M1165.8 454.2h0M1181.4 455.4h0M1275.0 451.8h0M1280.0 451.8h0M1129.4 465.0h0M1130.6 470.0h0M1131.8 479.4h0M1259.4 501.2h0M1267.0 506.0h0M1267.4 508.6h0M1357.0 501.2h0M1388.2 501.2h0M1398.0 501.2h0M1418.4 501.2h0M1413.4 508.4h0M1148.8 511.0h0M1238.0 512.0h0M1286.0 510.4h0M1288.0 512.4h0M1219.8 524.0h0M1358.6 519.2h0M1372.6 519.2h0M1388.0 519.2h0M1398.0 519.2h0M1418.4 519.2h0M1419.6 525.4h0M1352.2 527.8h0M1132.6 536.6h0M1134.6 541.0h0M1136.0 545.0h0M1245.0 545.0h0M1427.0 545.4h0M1136.0 546.0h0M1215.0 546.0h0M1245.0 546.0h0M1338.0 548.0h0M1334.0 551.6h0M1377.4 548.0h0M1427.0 547.0h0M1155.0 553.0h0M1157.4 553.0h0M1166.8 553.0h0M1181.4 553.0h0M1235.4 553.0h0M1293.4 551.6h0M1293.4 556.4h0M1333.0 556.4h0M1342.6 556.4h0M1355.8 553.0h0M1222.2 560.0h0M1337.8 565.0h0M1422.0 558.0h0M1422.0 560.4h0M1271.6 583.0h0M1224.6 585.4h0M1122.2 595.0h0M1217.2 593.8h0M1252.4 592.6h0M1219.6 602.4h0M1222.4 602.4h0M1225.0 602.4h0M1335.4 601.0h0M1338.0 601.0h0M1373.4 603.6h0M1375.6 603.6h0M1406.4 603.6h0M1423.0 599.6h0M1423.0 602.0h0M1124.8 638.4h0M1432.0 643.4h0M1434.6 642.0h0M1138.0 684.0h0M1140.6 686.4h0M1142.0 686.4h0M1152.4 687.6h0M1159.6 688.8h0M1229.2 690.0h0M1233.4 692.0h0M1235.0 691.0h0M1238.0 694.0h0M1240.4 695.0h0M1253.6 696.0h0M1255.0 697.4h0M1268.0 698.6h0M1270.4 699.8h0M1275.0 701.0h0M1276.6 702.0h0M1283.6 703.4h0M1327.0 704.4h0M1325.6 707.0h0M1332.0 705.8h0M1347.6 708.0h0M1349.0 709.4h0M1348.6 716.6h0M1375.2 710.6h0M1395.4 711.6h0M1400.4 713.0h0M1405.4 714.0h0M1408.4 715.6h0M1121.4 738.2h0M1264.4 737.0h0M1285.0 731.0h0M1286.2 732.0h0M1293.4 738.2h0M1244.0 744.2h0M1246.4 744.2h0M1253.6 744.2h0M1334.2 738.2h0M1418.4 733.6h0M1420.0 736.0h0M1418.4 738.4h0M1365.4 754.0h0M1369.2 758.6h0M1357.0 763.4h0M1269.4 766.0h0M1295.6 766.0h0M1299.6 764.6h0M1177.6 768.2h0M1120.0 761.0h0M1123.0 760.0h0M1126.0 758.6h0M1133.4 766.0h0M1136.0 766.0h0M1241.6 776.8h0M1281.4 776.8h0M1369.0 778.0h0M1366.6 781.6h0M1369.4 781.6h0M1168.0 785.2h0M1175.4 786.4h0M1337.8 792.4h0M1429.4 792.4h0M1250.0 797.2h0M1168.2 803.2h0M1360.6 804.4h0M1328.2 812.6h0M1146.4 1010.4h0M1158.6 1016.6h0M1162.0 1010.0h0M1166.0 1009.0h0M1163.0 1014.0h0M1164.0 1018.0h0M1248.0 1067.0h0M1255.0 1074.0h0M1261.0 1072.0h0M1289.0 1085.0h0M1292.0 1086.0h0M1312.0 1090.0h0M1314.0 1092.0h0M1136.6 823.4h0M1138.4 823.4h0M1177.6 826.2h0M1265.6 831.0h0M1349.8 828.4h0M1401.4 833.4h0M1430.2 838.2h0M1221.0 838.0h0M1221.0 841.4h0M1222.6 842.0h0M1292.2 844.0h0M1142.8 855.0h0M1291.0 856.2h0M1376.4 858.6h0M1404.0 856.2h0M1330.6 864.6h0M1223.4 867.0h0M1225.0 867.0h0M1289.6 869.4h0M1176.6 871.8h0M1346.2 877.8h0M1223.4 881.6h0M1376.4 887.6h0M1351.0 899.6h0M1396.8 898.4h0M1396.8 899.6h0M1300.4 900.6h0M1174.2 904.4h0M1142.8 906.8h0M1429.2 915.2h0M1127.2 927.2h0M1236.6 928.4h0M1236.6 929.6h0M1345.0 927.2h0M1323.2 932.0h0M1249.8 938.0h0M1300.4 936.8h0M1345.0 939.2h0M1145.2 941.6h0M1145.2 951.2h0M1145.2 956.0h0M1160.8 956.0h0M1239.0 955.0h0M1263.2 953.8h0M1226.0 958.6h0M1325.6 959.8h0M1335.0 959.8h0M1337.4 959.8h0M1430.2 958.6h0M1147.6 968.0h0M1147.6 969.4h0M1146.4 976.6h0M1358.0 978.6h0M1359.6 981.4h0M1370.4 980.2h0M1227.0 988.6h0M1231.0 988.6h0M1232.4 987.0h0M1359.6 989.8h0M1364.0 992.2h0M1366.0 992.2h0M1198.2 999.6h0M1264.4 998.2h0"/>
<path d="M1266.0 998.2h0M1293.4 998.2h0M1333.0 998.2h0M1217.4 1015.2h0M1349.8 1017.6h0M1424.4 1010.4h0M1424.4 1014.0h0M1272.6 1024.8h0M1401.4 1058.4h0M1281.4 1064.4h0M1291.0 1065.6h0M1298.2 1073.0h0M1333.0 1071.8h0M1335.0 1071.8h0M1361.0 1130.0h0M1363.0 1135.0h0M1372.0 1129.0h0M1372.0 1133.0h0M1421.0 1153.6h0M1427.0 1152.0h0M1427.0 1155.6h0M1434.4 1149.0h0M1434.4 1143.0h0M1417.6 39.9h0"/>
<path d="M278.0 46.4L290.0 46.4M324.0 44.4L331.0 44.4M299.0 182.0L311.0 182.0M350.0 347.4L359.0 347.4M425.0 460.0L436.0 460.0M378.0 298.6L393.0 298.6M449.0 383.0L457.0 383.0M461.0 437.4L468.0 437.4M704.0 38.4L716.0 38.4M704.0 46.4L718.0 46.4M754.0 44.4L761.0 44.4M761.0 46.4L770.0 46.4M478.0 183.0L493.0 183.0M704.0 182.0L717.0 182.0M704.0 183.6L716.0 183.6M477.0 272.0L493.0 272.0M819.0 22.0L819.0 30.0M821.6 22.0L821.6 30.0M813.0 31.4L827.0 31.4M875.0 39.0L890.0 39.0M876.0 41.0L889.0 41.0M991.0 42.4L998.0 42.4M1082.0 38.0L1090.0 38.0M1076.0 133.6L1090.0 133.6M828.0 175.6L835.0 175.6M829.0 177.4L847.0 177.6M916.0 175.0L929.0 175.0M916.0 177.6L929.0 177.6M1015.0 175.0L1025.0 174.4M1015.0 177.0L1020.0 177.0M1076.0 175.0L1089.0 175.0M1076.0 177.6L1089.0 177.6M1219.0 41.0L1245.0 41.0M1221.0 39.6L1245.0 39.6M1182.0 133.6L1198.0 133.6M1353.0 204.0L1360.0 204.0M1385.0 206.0L1397.4 206.0M1200.0 437.4L1216.0 437.4M1379.0 437.4L1385.0 437.4M1198.6 508.4L1216.0 508.4M1379.0 515.0L1385.0 514.6M1386.0 515.6L1396.0 515.6M1200.0 529.6L1216.0 545.4M1218.0 956.0L1227.0 956.0"/>
</g>
<circle cx="395.4" cy="48.4" r="4.4" fill="#86a63e"/>
<circle cx="750.0" cy="18.4" r="4.6" fill="#86a63e"/>
<circle cx="753.0" cy="18.4" r="4.0" fill="#8aa838"/>
<circle cx="736.6" cy="31.6" r="4.6" fill="#86a63e"/>
<circle cx="1017.6" cy="18.0" r="4.6" fill="#7fa452"/>
<circle cx="1017.0" cy="48.4" r="4.6" fill="#a4a626"/>
<circle cx="822.0" cy="30.4" r="3.4" fill="#8aa83a"/>
<circle cx="1412.2" cy="401.2" r="3.6" fill="#86a63e"/>
<g shape-rendering="crispEdges">
<rect x="1468.5" y="1140.75" width="70.0" height="18.45" fill="#023e45"/>
<rect x="1468.5" y="1122.89" width="70.0" height="18.45" fill="#05434c"/>
<rect x="1468.5" y="1105.04" width="70.0" height="18.45" fill="#084754"/>
<rect x="1468.5" y="1087.19" width="70.0" height="18.45" fill="#0b4b5b"/>
<rect x="1468.5" y="1069.33" width="70.0" height="18.45" fill="#0e5062"/>
<rect x="1468.5" y="1051.48" width="70.0" height="18.45" fill="#11546a"/>
<rect x="1468.5" y="1033.63" width="70.0" height="18.45" fill="#145871"/>
<rect x="1468.5" y="1015.77" width="70.0" height="18.45" fill="#175d79"/>
<rect x="1468.5" y="997.92" width="70.0" height="18.45" fill="#1b6180"/>
<rect x="1468.5" y="980.07" width="70.0" height="18.45" fill="#1e6688"/>
<rect x="1468.5" y="962.22" width="70.0" height="18.45" fill="#216a8f"/>
<rect x="1468.5" y="944.36" width="70.0" height="18.45" fill="#246e97"/>
<rect x="1468.5" y="926.51" width="70.0" height="18.45" fill="#27739e"/>
<rect x="1468.5" y="908.66" width="70.0" height="18.45" fill="#2a77a5"/>
<rect x="1468.5" y="890.80" width="70.0" height="18.45" fill="#2d7bad"/>
<rect x="1468.5" y="872.95" width="70.0" height="18.45" fill="#3080b4"/>
<rect x="1468.5" y="855.10" width="70.0" height="18.45" fill="#3583b4"/>
<rect x="1468.5" y="837.24" width="70.0" height="18.45" fill="#3b86ab"/>
<rect x="1468.5" y="819.39" width="70.0" height="18.45" fill="#4288a2"/>
<rect x="1468.5" y="801.54" width="70.0" height="18.45" fill="#488b9a"/>
<rect x="1468.5" y="783.68" width="70.0" height="18.45" fill="#4e8d91"/>
<rect x="1468.5" y="765.83" width="70.0" height="18.45" fill="#549088"/>
<rect x="1468.5" y="747.98" width="70.0" height="18.45" fill="#5b9280"/>
<rect x="1468.5" y="730.12" width="70.0" height="18.45" fill="#619577"/>
<rect x="1468.5" y="712.27" width="70.0" height="18.45" fill="#67976e"/>
<rect x="1468.5" y="694.42" width="70.0" height="18.45" fill="#6d9a65"/>
<rect x="1468.5" y="676.57" width="70.0" height="18.45" fill="#749c5d"/>
<rect x="1468.5" y="658.71" width="70.0" height="18.45" fill="#7a9f54"/>
<rect x="1468.5" y="640.86" width="70.0" height="18.45" fill="#80a14b"/>
<rect x="1468.5" y="623.01" width="70.0" height="18.45" fill="#86a443"/>
<rect x="1468.5" y="605.15" width="70.0" height="18.45" fill="#8da63a"/>
<rect x="1468.5" y="587.30" width="70.0" height="18.45" fill="#93a931"/>
<rect x="1468.5" y="569.45" width="70.0" height="18.45" fill="#98aa2c"/>
<rect x="1468.5" y="551.59" width="70.0" height="18.45" fill="#9ea929"/>
<rect x="1468.5" y="533.74" width="70.0" height="18.45" fill="#a2a826"/>
<rect x="1468.5" y="515.89" width="70.0" height="18.45" fill="#a8a823"/>
<rect x="1468.5" y="498.03" width="70.0" height="18.45" fill="#aca720"/>
<rect x="1468.5" y="480.18" width="70.0" height="18.45" fill="#b2a71e"/>
<rect x="1468.5" y="462.33" width="70.0" height="18.45" fill="#b6a61b"/>
<rect x="1468.5" y="444.47" width="70.0" height="18.45" fill="#bca518"/>
<rect x="1468.5" y="426.62" width="70.0" height="18.45" fill="#c0a515"/>
<rect x="1468.5" y="408.77" width="70.0" height="18.45" fill="#c6a412"/>
<rect x="1468.5" y="390.92" width="70.0" height="18.45" fill="#caa30f"/>
<rect x="1468.5" y="373.06" width="70.0" height="18.45" fill="#d0a30d"/>
<rect x="1468.5" y="355.21" width="70.0" height="18.45" fill="#d4a20a"/>
<rect x="1468.5" y="337.36" width="70.0" height="18.45" fill="#daa207"/>
<rect x="1468.5" y="319.50" width="70.0" height="18.45" fill="#dea104"/>
<rect x="1468.5" y="301.65" width="70.0" height="18.45" fill="#e4a001"/>
<rect x="1468.5" y="283.80" width="70.0" height="18.45" fill="#e69c00"/>
<rect x="1468.5" y="265.94" width="70.0" height="18.45" fill="#e69500"/>
<rect x="1468.5" y="248.09" width="70.0" height="18.45" fill="#e68e00"/>
<rect x="1468.5" y="230.24" width="70.0" height="18.45" fill="#e68700"/>
<rect x="1468.5" y="212.38" width="70.0" height="18.45" fill="#e68000"/>
<rect x="1468.5" y="194.53" width="70.0" height="18.45" fill="#e67800"/>
<rect x="1468.5" y="176.68" width="70.0" height="18.45" fill="#e67100"/>
<rect x="1468.5" y="158.83" width="70.0" height="18.45" fill="#e66a00"/>
<rect x="1468.5" y="140.97" width="70.0" height="18.45" fill="#e66300"/>
<rect x="1468.5" y="123.12" width="70.0" height="18.45" fill="#e65c00"/>
<rect x="1468.5" y="105.27" width="70.0" height="18.45" fill="#e65500"/>
<rect x="1468.5" y="87.41" width="70.0" height="18.45" fill="#e64d00"/>
<rect x="1468.5" y="69.56" width="70.0" height="18.45" fill="#e64600"/>
<rect x="1468.5" y="51.71" width="70.0" height="18.45" fill="#e63f00"/>
<rect x="1468.5" y="33.85" width="70.0" height="18.45" fill="#e63800"/>
<rect x="1468.5" y="16.00" width="70.0" height="18.45" fill="#e63100"/>
</g>
<g stroke="#000" stroke-width="2" fill="none">
<rect x="1468.5" y="16.0" width="70.0" height="1142.6"/>
<path d="M1539.2 1095.0h-13M1539.2 968.1h-13M1539.2 841.2h-13M1539.2 714.2h-13M1539.2 587.3h-13M1539.2 460.4h-13M1539.2 333.4h-13M1539.2 206.5h-13M1539.2 79.6h-13"/>
</g>
<text transform="translate(162.40,1224.50) scale(0.930,1)" font-size="50.90" text-anchor="middle" letter-spacing="1.00">0</text>
<text transform="translate(403.10,1224.50) scale(0.930,1)" font-size="50.90" text-anchor="middle" letter-spacing="1.00">200</text>
<text transform="translate(643.80,1224.50) scale(0.930,1)" font-size="50.90" text-anchor="middle" letter-spacing="1.00">400</text>
<text transform="translate(884.50,1224.50) scale(0.930,1)" font-size="50.90" text-anchor="middle" letter-spacing="1.00">600</text>
<text transform="translate(1125.20,1224.50) scale(0.930,1)" font-size="50.90" text-anchor="middle" letter-spacing="1.00">800</text>
<text transform="translate(1365.90,1224.50) scale(0.930,1)" font-size="50.90" text-anchor="middle" letter-spacing="1.00">1000</text>
<text transform="translate(146.20,35.50) scale(0.930,1)" font-size="50.90" text-anchor="end" letter-spacing="1.00">0</text>
<text transform="translate(144.30,156.75) scale(0.930,1)" font-size="50.90" text-anchor="end" letter-spacing="1.00">100</text>
<text transform="translate(144.30,277.10) scale(0.930,1)" font-size="50.90" text-anchor="end" letter-spacing="1.00">200</text>
<text transform="translate(144.30,397.45) scale(0.930,1)" font-size="50.90" text-anchor="end" letter-spacing="1.00">300</text>
<text transform="translate(144.30,517.80) scale(0.930,1)" font-size="50.90" text-anchor="end" letter-spacing="1.00">400</text>
<text transform="translate(144.30,638.15) scale(0.930,1)" font-size="50.90" text-anchor="end" letter-spacing="1.00">500</text>
<text transform="translate(144.30,758.50) scale(0.930,1)" font-size="50.90" text-anchor="end" letter-spacing="1.00">600</text>
<text transform="translate(144.30,878.85) scale(0.930,1)" font-size="50.90" text-anchor="end" letter-spacing="1.00">700</text>
<text transform="translate(144.30,999.20) scale(0.930,1)" font-size="50.90" text-anchor="end" letter-spacing="1.00">800</text>
<text transform="translate(144.30,1119.55) scale(0.930,1)" font-size="50.90" text-anchor="end" letter-spacing="1.00">900</text>
<text transform="translate(1553.50,1111.62) scale(0.930,1)" font-size="43.90" text-anchor="start" letter-spacing="0.60">-40</text>
<text transform="translate(1553.50,984.69) scale(0.930,1)" font-size="43.90" text-anchor="start" letter-spacing="0.60">-30</text>
<text transform="translate(1553.50,857.76) scale(0.930,1)" font-size="43.90" text-anchor="start" letter-spacing="0.60">-20</text>
<text transform="translate(1553.50,730.83) scale(0.930,1)" font-size="43.90" text-anchor="start" letter-spacing="0.60">-10</text>
<text transform="translate(1553.50,603.90) scale(0.930,1)" font-size="43.90" text-anchor="start" letter-spacing="0.60">0</text>
<text transform="translate(1553.50,476.97) scale(0.930,1)" font-size="43.90" text-anchor="start" letter-spacing="0.60">10</text>
<text transform="translate(1553.50,350.04) scale(0.930,1)" font-size="43.90" text-anchor="start" letter-spacing="0.60">20</text>
<text transform="translate(1553.50,223.11) scale(0.930,1)" font-size="43.90" text-anchor="start" letter-spacing="0.60">30</text>
<text transform="translate(1553.50,96.18) scale(0.930,1)" font-size="43.90" text-anchor="start" letter-spacing="0.60">40</text>
<text transform="translate(796.20,1288.40) scale(0.956,1)" font-size="56.00" text-anchor="middle">Number of columns (reactions)</text>
<text transform="translate(802.00,1354.40) scale(0.956,1)" font-size="56.00" text-anchor="middle">(4567 nonzero elements)</text>
<text transform="translate(40.10,590.40) rotate(-90) scale(0.956,1)" font-size="56.00" text-anchor="middle">Number of rows (metabolites)</text>
</svg></body></html>
